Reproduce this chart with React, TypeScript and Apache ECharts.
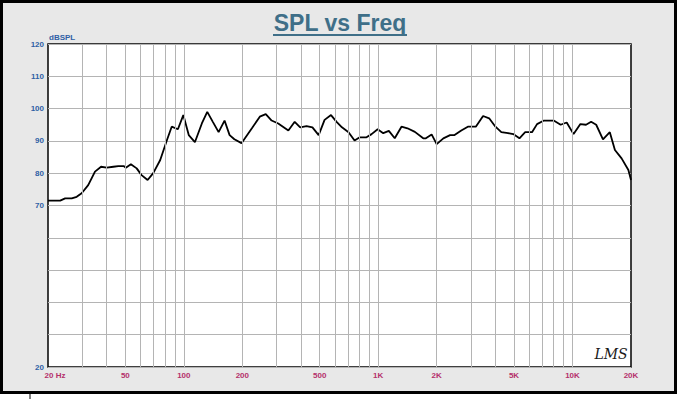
import React, { useEffect, useRef } from "react";
import * as echarts from "echarts";

const freqs = [
  20, 23.1, 24.5, 26.5, 28.1, 29.8, 32.2, 34.9, 37.5, 40.1, 43.4, 46, 49, 50.3, 53.4, 57.2, 60.6, 65.1, 69.6, 75.6,
  81.9, 86.6, 93.2, 99.4, 106, 114, 123.8, 132, 141, 151, 162, 172, 182, 198, 224, 246, 264, 283, 306, 345, 372,
  397, 428, 459, 494, 530, 572, 611, 651, 704, 756, 804, 871, 925, 994, 1062, 1135, 1217, 1318, 1415, 1545, 1705,
  1760, 1884, 2000, 2165, 2344, 2472, 2677, 2894, 3180, 3467, 3725, 4013, 4302, 4660, 4955, 5332, 5709, 6190, 6570,
  7127, 8000, 8690, 9335, 10130, 10980, 11740, 12470, 13240, 14350, 15560, 16530, 17890, 19390, 20000,
];
const spl = [
  71.5, 71.5, 72.2, 72.2, 72.7, 73.8, 76.3, 80.5, 82.0, 81.7, 82.0, 82.2, 82.2, 81.7, 82.8, 81.5, 79.4, 77.9, 80.0,
  84.1, 90.3, 94.4, 93.6, 98.0, 91.8, 89.6, 95.4, 99.0, 95.9, 92.7, 96.3, 91.8, 90.5, 89.3, 93.9, 97.5, 98.3, 96.3,
  95.4, 93.2, 95.9, 94.2, 94.6, 94.2, 91.8, 96.5, 98.0, 95.9, 94.2, 92.7, 90.1, 91.1, 91.1, 92.1, 93.6, 92.4, 93.1,
  90.8, 94.4, 93.9, 92.8, 90.8, 90.8, 92.0, 89.0, 90.8, 91.8, 91.8, 93.2, 94.4, 94.4, 97.7, 97.0, 94.4, 92.7, 92.4,
  92.1, 90.8, 92.7, 92.7, 95.2, 96.3, 96.3, 95.0, 95.7, 92.1, 95.2, 95.0, 95.9, 95.0, 90.5, 92.7, 87.2, 84.6, 81.0,
  77.9,
];

const gridFreqs = [
  20, 30, 40, 50, 60, 70, 80, 90, 100, 200, 300, 400, 500, 600, 700, 800, 900, 1000, 2000, 3000, 4000, 5000, 6000,
  7000, 8000, 9000, 10000, 20000,
];
const xTickValues = [20, 50, 100, 200, 500, 1000, 2000, 5000, 10000, 20000];
const xTickLabels = ["20 Hz", "50", "100", "200", "500", "1K", "2K", "5K", "10K", "20K"];
const yShownLabels = [20, 70, 80, 90, 100, 110, 120];

const TITLE_COLOR = "#3f6f88";
const X_LABEL_COLOR = "#b5306b";
const Y_LABEL_COLOR = "#2f5fa5";
const GRID_COLOR = "#b4b4b4";

export default function App() {
  const ref = useRef<HTMLDivElement>(null);

  useEffect(() => {
    if (!ref.current) return;
    const chart = echarts.init(ref.current, undefined, { renderer: "svg" });
    const pts = freqs.map((f, i) => [f, spl[i]]);

    const markData = gridFreqs.map((f) => {
      const idx = xTickValues.indexOf(f);
      const edge = f === 20 || f === 20000;
      const item: any = { xAxis: f };
      if (edge) item.lineStyle = { color: "rgba(0,0,0,0)" };
      if (idx >= 0) {
        item.label = {
          show: true,
          formatter: xTickLabels[idx],
          padding: f === 20 ? [0, 0, 0, 14] : 0,
        };
      }
      return item;
    });

    chart.setOption({
      animation: false,
      backgroundColor: "#ffffff",
      grid: {
        show: true,
        left: 48,
        top: 44,
        width: 583,
        height: 323,
        backgroundColor: "#ffffff",
        borderColor: "#000000",
        borderWidth: 1.5,
      },
      xAxis: {
        type: "log",
        logBase: 10,
        min: 20,
        max: 20000,
        axisLine: { show: false },
        axisTick: { show: false },
        axisLabel: { show: false },
        splitLine: { show: false },
      },
      yAxis: {
        type: "value",
        min: 20,
        max: 120,
        interval: 10,
        axisLine: { show: false },
        axisTick: { show: false },
        splitLine: { show: true, lineStyle: { color: GRID_COLOR, width: 1 } },
        axisLabel: {
          color: Y_LABEL_COLOR,
          fontWeight: "bold",
          fontSize: 8,
          fontFamily: "Liberation Sans, Arial, sans-serif",
          margin: 4,
          formatter: (v: number) => (yShownLabels.indexOf(v) >= 0 ? String(v) : ""),
        },
      },
      series: [
        {
          type: "line",
          data: pts,
          symbol: "none",
          silent: true,
          z: 1,
          lineStyle: { opacity: 0 },
          markLine: {
            silent: true,
            animation: false,
            symbol: ["none", "none"],
            lineStyle: { color: GRID_COLOR, width: 1, type: "solid" },
            label: {
              show: false,
              position: "start",
              distance: 4,
              color: X_LABEL_COLOR,
              fontWeight: "bold",
              fontSize: 8,
              fontFamily: "Liberation Sans, Arial, sans-serif",
            },
            data: markData,
          },
        },
        {
          type: "line",
          data: pts,
          symbol: "none",
          silent: true,
          z: 3,
          lineStyle: { color: "#000000", width: 1.8 },
        },
      ],
      graphic: [
        {
          type: "rect",
          z: -10,
          shape: { x: 1.5, y: 1.5, width: 674, height: 391 },
          style: { fill: "#e8e8e8", stroke: "#000000", lineWidth: 3 },
        },
        {
          type: "line",
          shape: { x1: 30, y1: 394, x2: 30, y2: 399 },
          style: { stroke: "#000000", lineWidth: 1 },
        },
        {
          type: "text",
          x: 340,
          y: 23,
          style: {
            text: "SPL vs Freq",
            font: "bold 23px 'Liberation Sans', Arial, sans-serif",
            fill: TITLE_COLOR,
            align: "center",
            verticalAlign: "middle",
          },
        },
        {
          type: "line",
          shape: { x1: 273, y1: 35, x2: 407, y2: 35 },
          style: { stroke: TITLE_COLOR, lineWidth: 2 },
        },
        {
          type: "text",
          x: 49,
          y: 37,
          style: {
            text: "dBSPL",
            font: "bold 8px 'Liberation Sans', Arial, sans-serif",
            fill: Y_LABEL_COLOR,
            align: "left",
            verticalAlign: "middle",
          },
        },
        {
          type: "text",
          x: 611,
          y: 354,
          z: 10,
          style: {
            text: "LMS",
            font: "italic 14px 'DejaVu Serif', serif",
            fill: "#1a1a1a",
            align: "center",
            verticalAlign: "middle",
          },
        },
      ],
    });
    return () => chart.dispose();
  }, []);

  return (
    <div
      ref={ref}
      style={{ position: "fixed", left: 0, top: 0, width: 680, height: 399 }}
    />
  );
}
